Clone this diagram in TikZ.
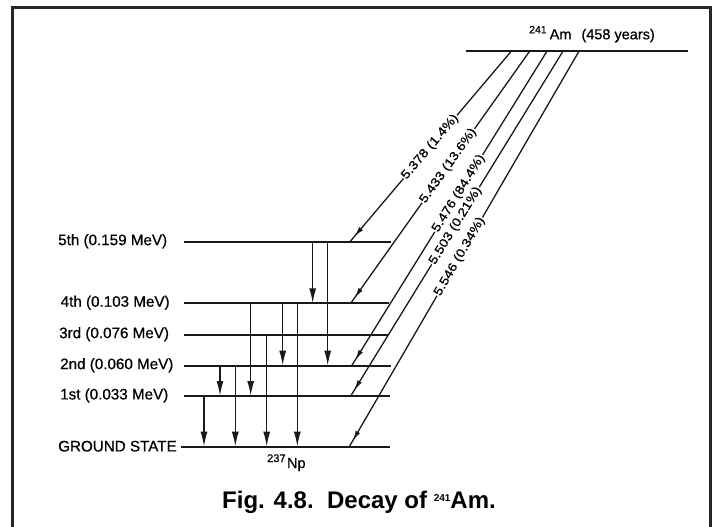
\documentclass[tikz,border=0pt]{standalone}
\usepackage{fontspec}
\setmainfont{Liberation Sans}
\newfontfamily\labfont[FakeBold=0.6]{Liberation Sans}
\newfontfamily\diagfont[FakeBold=0.6,FakeStretch=1.15]{Liberation Sans}
\usetikzlibrary{arrows.meta,decorations.markings,calc}
\newcommand\supnum[3]{\raisebox{#2}{\fontsize{#1}{#1}\selectfont #3}}
\begin{document}
\begin{tikzpicture}[x=1pt,y=-1pt,
  ink/.style={draw=black!90},
  frameline/.style={draw=black!85,line width=3pt},
  level/.style={ink,line width=2.3pt},
  garrow/.style={ink,line width=1.5pt,-{Latex[length=15pt,width=7pt]}},
  darrow/.style={ink,line width=1.3pt,
    decoration={markings,mark=at position -7pt with {\arrow{Latex[length=10pt,width=5pt]}}},
    postaction={decorate}},
  lvl/.style={anchor=west,inner sep=0pt,font=\labfont\fontsize{15.2}{17}\selectfont},
  dlab/.style={sloped,fill=white,inner sep=0.8pt,font=\diagfont\fontsize{12.3}{13}\selectfont},
  plain/.style={inner sep=0pt,font=\labfont\fontsize{14.5}{16}\selectfont}]
\useasboundingbox (0,0) rectangle (715,527);
\fill[white] (0,0) rectangle (715,527);
% frame
\coordinate (F1) at (12.5,527);
\coordinate (F2) at (12.5,7.5);
\coordinate (F3) at (710.5,7.5);
\coordinate (F4) at (710.5,527);
\draw[frameline] (F1) -- (F2) -- (F3) -- (F4);
% parent level
\coordinate (Ta) at (466,50.7);
\coordinate (Tb) at (688,50.7);
\draw[level] (Ta) -- (Tb);
\node[plain,anchor=base west] (amlab) at (529,39.3) {\supnum{10.5}{6pt}{241}\hspace{3pt}Am\hspace{10pt}(458 years)};
% daughter levels
\coordinate (L5a) at (184,241.7); \coordinate (L5b) at (390.7,241.7);
\coordinate (L4a) at (184,303.3); \coordinate (L4b) at (389,303.3);
\coordinate (L3a) at (184,334.7); \coordinate (L3b) at (388,334.7);
\coordinate (L2a) at (184,365.7); \coordinate (L2b) at (390.7,365.7);
\coordinate (L1a) at (184,396);   \coordinate (L1b) at (390,396);
\coordinate (L0a) at (181,446.7); \coordinate (L0b) at (390,446.7);
\foreach \l in {5,4,3,2,1,0}{\draw[level] (L\l a) -- (L\l b);}
\node[lvl] (t5) at (58,241.2) {5th (0.159 MeV)};
\node[lvl] (t4) at (60.5,302.8) {4th (0.103 MeV)};
\node[lvl] (t3) at (59,334.2) {3rd (0.076 MeV)};
\node[lvl] (t2) at (60,365.2) {2nd (0.060 MeV)};
\node[lvl] (t1) at (60,395.5) {1st (0.033 MeV)};
\node[lvl] (t0) at (58,446.2) {GROUND STATE};
\node[plain,anchor=base west] (np) at (267,468) {\supnum{11}{6pt}{237}\hspace{1.5pt}Np};
% gamma transitions
\coordinate (g1) at (312.7,0);
\coordinate (g2) at (327.7,0);
\coordinate (g3) at (250.7,0);
\coordinate (g4) at (282.7,0);
\coordinate (g5) at (297.3,0);
\coordinate (g6) at (266.7,0);
\coordinate (g7) at (220,0);
\coordinate (g8) at (235.3,0);
\coordinate (g9) at (204,0);
\draw[garrow] (g1 |- L5a) -- (g1 |- L4a);
\draw[garrow] (g2 |- L5a) -- (g2 |- L2a);
\draw[garrow] (g3 |- L4a) -- (g3 |- L1a);
\draw[garrow] (g4 |- L4a) -- (g4 |- L2a);
\draw[garrow] (g5 |- L4a) -- (g5 |- L0a);
\draw[garrow] (g6 |- L3a) -- (g6 |- L0a);
\draw[garrow] (g7 |- L2a) -- (g7 |- L1a);
\draw[garrow] (g8 |- L2a) -- (g8 |- L0a);
\draw[garrow] (g9 |- L1a) -- (g9 |- L0a);
% alpha transitions
\coordinate (A1) at (511.7,50.7); \coordinate (E1) at (350,241.7);
\coordinate (A2) at (530,50.7);   \coordinate (E2) at (350.7,303.3);
\coordinate (A3) at (547.3,50.7); \coordinate (E3) at (351.7,365.7);
\coordinate (A4) at (563.3,50.7); \coordinate (E4) at (350.7,396);
\coordinate (A5) at (579.3,50.7); \coordinate (E5) at (349.3,446.7);
\draw[darrow] (A1) -- node[dlab,pos=0.504] (a1) {5.378 (1.4\%)} (E1);
\draw[darrow] (A2) -- node[dlab,pos=0.456] (a2) {5.433 (13.6\%)} (E2);
\draw[darrow] (A3) -- node[dlab,pos=0.453] (a3) {5.476 (84.4\%)} (E3);
\draw[darrow] (A4) -- node[dlab,pos=0.507] (a4) {5.503 (0.21\%)} (E4);
\draw[darrow] (A5) -- node[dlab,pos=0.52] (a5) {5.546 (0.34\%)} (E5);
% caption
\node[inner sep=0pt,anchor=base,font=\bfseries\fontsize{24}{26}\selectfont] (cap) at (359,508)
  {Fig. 4.8.\ \ Decay of \supnum{10}{7pt}{\bfseries 241}Am.};
\end{tikzpicture}
\end{document}
